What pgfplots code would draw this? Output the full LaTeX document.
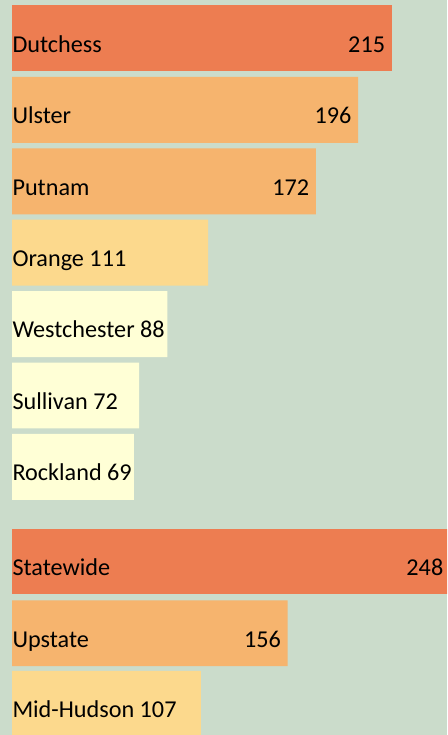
\documentclass[border=0pt]{standalone}
\usepackage{pgfplots}
\pgfplotsset{compat=1.18}
\usepackage{fontspec}
\setmainfont{Carlito}
\definecolor{bg}{HTML}{CBDCCB}
\definecolor{cRed}{HTML}{ED7D51}
\definecolor{cOrg}{HTML}{F6B46E}
\definecolor{cYel}{HTML}{FCD98D}
\definecolor{cCrm}{HTML}{FFFFD6}
\begin{document}
\begin{tikzpicture}
\begin{axis}[
  width=447pt, height=735pt, scale only axis,
  xmin=-6.8, xmax=246.3, ymin=-0.539, ymax=9.755,
  y dir=reverse,
  axis line style={draw=none}, ticks=none,
  axis background/.style={fill=bg},
  clip=true,
  /pgf/number format/assume math mode=true,
  bar width=0.924, bar shift=0pt,
  every node near coord/.append style={font=\fontsize{24.2}{28}\selectfont, inner sep=0pt},
]
% long bars: value at the bar end
\addplot[xbar, fill=cRed, draw=none, nodes near coords,
  every node near coord/.append style={anchor=base east, xshift=-6.5pt, yshift=-13.8pt}]
  coordinates {(215,0)};
\addplot[xbar, fill=cRed, draw=none] coordinates {(248,7.325)};
\addplot[xbar, fill=cOrg, draw=none, nodes near coords,
  every node near coord/.append style={anchor=base east, xshift=-6.5pt, yshift=-13.8pt}]
  coordinates {(196,1) (172,2) (156,8.33)};
% short bars: value follows the name
\addplot[xbar, fill=cYel, draw=none] coordinates {(111,3) (107,9.32)};
\addplot[xbar, fill=cCrm, draw=none] coordinates {(88,4) (72,5) (69,6)};
% names
\addplot[draw=none, no markers, nodes near coords, point meta=explicit symbolic,
  every node near coord/.append style={anchor=base west, xshift=0.3pt, yshift=-13.8pt}]
  coordinates {(0,0)[Dutchess] (0,1)[Ulster] (0,2)[Putnam] (0,3)[Orange 111]
    (0,4)[Westchester 88] (0,5)[Sullivan 72] (0,6)[Rockland 69]
    (0,7.325)[Statewide] (0,8.33)[Upstate] (0,9.32)[Mid-Hudson 107]};
% Statewide value (its bar end lies past the right edge)
\addplot[draw=none, no markers, nodes near coords, point meta=explicit symbolic,
  every node near coord/.append style={anchor=base east, yshift=-13.8pt}]
  coordinates {(244.3,7.325)[248]};
\end{axis}
\end{tikzpicture}
\end{document}
